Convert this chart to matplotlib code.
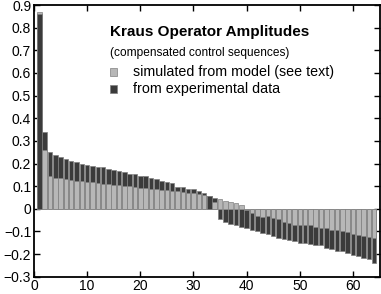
import matplotlib.pyplot as plt
import matplotlib.patches as mpatches
from matplotlib.ticker import FuncFormatter
import numpy as np

plt.rcParams['font.family'] = ['Liberation Sans', 'DejaVu Sans']

# Kraus operator amplitudes, index 1..64
simulated = [0.87, 0.26, 0.147, 0.137, 0.134, 0.131, 0.128, 0.125, 0.122, 0.120,
             0.117, 0.114, 0.111, 0.110, 0.107, 0.105, 0.102, 0.099, 0.096, 0.094,
             0.091, 0.087, 0.087, 0.083, 0.081, 0.080, 0.077, 0.072, 0.071, 0.068,
             0.065, 0.062, 0.055, 0.030, 0.044, 0.035, 0.029, 0.025, 0.017, -0.005,
             -0.020, -0.030, -0.038, -0.031, -0.040, -0.046, -0.058, -0.062, -0.070, -0.070,
             -0.070, -0.072, -0.080, -0.083, -0.087, -0.092, -0.095, -0.098, -0.102, -0.110,
             -0.114, -0.120, -0.125, -0.129]
experimental = [0.86, 0.34, 0.249, 0.237, 0.230, 0.222, 0.212, 0.207, 0.200, 0.193,
                0.189, 0.186, 0.183, 0.177, 0.173, 0.167, 0.161, 0.155, 0.152, 0.147,
                0.143, 0.134, 0.131, 0.122, 0.117, 0.114, 0.098, 0.095, 0.089, 0.087,
                0.080, 0.068, 0.055, 0.048, -0.045, -0.058, -0.065, -0.073, -0.080, -0.084,
                -0.092, -0.100, -0.107, -0.113, -0.120, -0.128, -0.135, -0.140, -0.143, -0.149,
                -0.152, -0.156, -0.162, -0.162, -0.173, -0.177, -0.185, -0.188, -0.197, -0.203,
                -0.207, -0.219, -0.222, -0.238]
index = np.arange(1, len(simulated) + 1)

c_sim = '#b7b7b7'
c_exp = '#3b3b3b'

fig = plt.figure(figsize=(3.81, 2.94), dpi=100)
ax = fig.add_axes([0.0892, 0.0588, 0.907, 0.924])

# the bigger bar goes behind so both stay visible
for x, g, d in zip(index, simulated, experimental):
    pair = sorted([(g, c_sim), (d, c_exp)], key=lambda p: -abs(p[0]))
    for z, (v, c) in enumerate(pair):
        ax.bar(x, v, width=0.85, color=c, edgecolor='#808080', linewidth=0.5, zorder=2 + z)

ax.set_xlim(0, 65)
ax.set_ylim(-0.3, 0.9)
ax.set_xticks(range(0, 61, 10))
ax.set_yticks(np.round(np.arange(-0.3, 0.91, 0.1), 1))
ax.yaxis.set_major_formatter(FuncFormatter(lambda v, p: ('%g' % round(v, 1)).replace('-', '\u2212')))
ax.tick_params(direction='in', top=True, right=True, length=4, width=1, labelsize=10, pad=2)
for s in ax.spines.values():
    s.set_linewidth(1.3)

# legend drawn by hand
ax.text(0.22, 0.902, 'Kraus Operator Amplitudes', transform=ax.transAxes,
        fontsize=11, fontweight='bold', va='center', ha='left')
ax.text(0.22, 0.823, '(compensated control sequences)', transform=ax.transAxes,
        fontsize=8.6, va='center', ha='left')
for yy, c, lab in [(0.753, c_sim, 'simulated from model (see text)'),
                   (0.691, c_exp, 'from experimental data')]:
    ax.add_patch(mpatches.Rectangle((0.22, yy - 0.015), 0.02, 0.03, transform=ax.transAxes,
                                    facecolor=c, edgecolor='#808080', linewidth=0.5))
    ax.text(0.2865, yy, lab, transform=ax.transAxes, fontsize=10.3, va='center', ha='left')

plt.savefig('out.png', dpi=100)
